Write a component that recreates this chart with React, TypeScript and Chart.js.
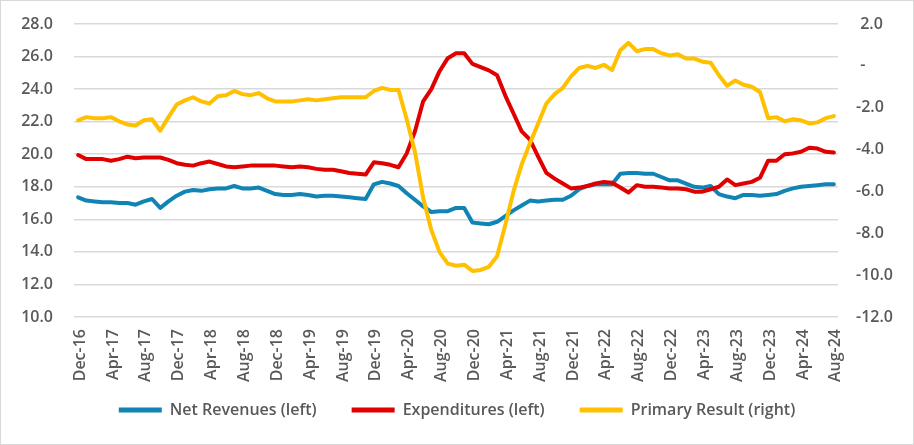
import { useEffect, useRef } from "react"
import { Chart, registerables } from "chart.js"

Chart.register(...registerables)

// monthly categories, Dec-16 .. Aug-24
const monthNames = ["Jan", "Feb", "Mar", "Apr", "May", "Jun", "Jul", "Aug", "Sep", "Oct", "Nov", "Dec"]
const categories: string[] = []
for (let i = 0; i < 93; i++) {
  const m = (11 + i) % 12
  const y = 16 + Math.floor((11 + i) / 12)
  categories.push(`${monthNames[m]}-${y}`)
}

const netRevenues = [
  17.35, 17.15, 17.1, 17.05, 17.05, 17.0, 17.0, 16.9, 17.1, 17.25, 16.7, 17.1,
  17.45, 17.7, 17.8, 17.75, 17.85, 17.9, 17.9, 18.05, 17.9, 17.9, 17.95, 17.75,
  17.55, 17.5, 17.5, 17.55, 17.5, 17.4, 17.45, 17.45, 17.4, 17.35, 17.3, 17.25,
  18.15, 18.3, 18.2, 18.05, 17.6, 17.2, 16.8, 16.45, 16.5, 16.5, 16.7, 16.7,
  15.8, 15.75, 15.7, 15.85, 16.2, 16.55, 16.85, 17.15, 17.1, 17.15, 17.2, 17.2,
  17.45, 17.85, 18.05, 18.15, 18.15, 18.15, 18.8, 18.85, 18.85, 18.8, 18.8, 18.6,
  18.4, 18.4, 18.2, 18.0, 17.95, 18.05, 17.55, 17.4, 17.3, 17.5, 17.5, 17.45,
  17.5, 17.55, 17.75, 17.9, 18.0, 18.05, 18.1, 18.15, 18.15,
]

const expenditures = [
  19.95, 19.7, 19.7, 19.7, 19.6, 19.7, 19.85, 19.75, 19.8, 19.8, 19.8, 19.65,
  19.45, 19.35, 19.3, 19.45, 19.55, 19.4, 19.25, 19.2, 19.25, 19.3, 19.3, 19.3,
  19.3, 19.25, 19.2, 19.25, 19.2, 19.1, 19.05, 19.05, 18.95, 18.85, 18.8, 18.75,
  19.5, 19.45, 19.35, 19.2, 20.05, 21.4, 23.25, 24.0, 25.1, 25.9, 26.2, 26.2,
  25.55, 25.35, 25.15, 24.85, 23.6, 22.5, 21.4, 20.9, 19.85, 18.85, 18.5, 18.2,
  17.9, 17.95, 18.05, 18.2, 18.3, 18.25, 17.95, 17.65, 18.1, 18.0, 18.0, 17.95,
  17.9, 17.9, 17.85, 17.7, 17.7, 17.85, 18.0, 18.45, 18.1, 18.2, 18.3, 18.55,
  19.6, 19.6, 20.0, 20.05, 20.15, 20.4, 20.35, 20.15, 20.1,
]

const primaryResult = [
  -2.6, -2.45, -2.5, -2.5, -2.45, -2.65, -2.8, -2.85, -2.6, -2.55, -3.1, -2.45,
  -1.85, -1.65, -1.5, -1.7, -1.8, -1.45, -1.4, -1.2, -1.35, -1.4, -1.3, -1.55,
  -1.7, -1.7, -1.7, -1.65, -1.6, -1.65, -1.6, -1.55, -1.5, -1.5, -1.5, -1.5,
  -1.2, -1.05, -1.15, -1.15, -2.55, -4.1, -6.3, -7.85, -8.9, -9.45, -9.55, -9.5,
  -9.8, -9.75, -9.6, -9.1, -7.6, -6.0, -4.7, -3.7, -2.75, -1.8, -1.35, -1.05,
  -0.5, -0.1, 0.0, -0.1, 0.05, -0.2, 0.75, 1.1, 0.7, 0.8, 0.8, 0.6,
  0.5, 0.55, 0.35, 0.35, 0.2, 0.15, -0.45, -0.95, -0.7, -0.9, -1.0, -1.25,
  -2.5, -2.45, -2.65, -2.55, -2.6, -2.75, -2.7, -2.5, -2.4,
]

const seriesNames = ["Net Revenues (left)", "Expenditures (left)", "Primary Result (right)"]
const seriesColors = ["#1084b4", "#e00000", "#ffc000"]

const textColor = "#595959"
const font = { family: "'Open Sans', sans-serif", size: 16, weight: 600 }
// y tick labels: zero line height so the tick padding does not push the plot area down
const yFont = { ...font, lineHeight: 0 }

export default function App() {
  const chartRef = useRef<HTMLCanvasElement>(null)
  const chartInstance = useRef<Chart | null>(null)

  useEffect(() => {
    if (!chartRef.current) return
    if (chartInstance.current) chartInstance.current.destroy()
    const ctx = chartRef.current.getContext("2d")
    if (!ctx) return

    const lineStyle = (i: number) => ({
      label: seriesNames[i],
      borderColor: seriesColors[i],
      backgroundColor: seriesColors[i],
      borderWidth: 4,
      pointRadius: 0,
      tension: 0,
      borderJoinStyle: "round" as const,
      borderCapStyle: "round" as const,
      order: 3 - i, // later series drawn on top, like Excel
    })

    chartInstance.current = new Chart(ctx, {
      type: "line",
      data: {
        labels: categories,
        datasets: [
          { ...lineStyle(0), data: netRevenues, yAxisID: "y" },
          { ...lineStyle(1), data: expenditures, yAxisID: "y" },
          { ...lineStyle(2), data: primaryResult, yAxisID: "y1" },
        ],
      },
      options: {
        animation: false,
        responsive: false,
        maintainAspectRatio: false,
        layout: { padding: { top: 23, right: 0, bottom: 16, left: 0 } },
        plugins: {
          tooltip: { enabled: false },
          legend: {
            position: "bottom",
            labels: {
              boxWidth: 43,
              boxHeight: 5,
              padding: 19,
              color: textColor,
              font,
              sort: (a, b) => (a.datasetIndex ?? 0) - (b.datasetIndex ?? 0),
              generateLabels: (chart) =>
                Chart.defaults.plugins.legend.labels.generateLabels(chart).map((item) => ({
                  ...item,
                  lineWidth: 0,
                  // em space widens the gap to the next entry
                  text: (item.datasetIndex ?? 0) < 2 ? item.text + "\u2003" : item.text,
                })),
            },
          },
        },
        scales: {
          x: {
            offset: true,
            grid: { display: false, drawTicks: false },
            border: { display: false },
            ticks: {
              autoSkip: false,
              minRotation: 90,
              maxRotation: 90,
              padding: 12,
              labelOffset: 2,
              color: textColor,
              font,
              callback: (_v, i) => (i % 4 === 0 ? categories[i] : ""),
            },
            afterFit: (s) => {
              s.height = 66
            },
          },
          y: {
            position: "left",
            min: 10,
            max: 28,
            ticks: {
              stepSize: 2,
              padding: 21,
              color: textColor,
              font: yFont,
              callback: (v) => Number(v).toFixed(1),
            },
            grid: { color: "#d9d9d9", lineWidth: 1.5, drawTicks: false },
            border: { display: false },
            afterFit: (s) => {
              s.width = 73
            },
          },
          y1: {
            position: "right",
            min: -12,
            max: 2,
            ticks: {
              stepSize: 2,
              padding: 18,
              color: textColor,
              font: yFont,
              callback: (v) => {
                const n = Number(v)
                if (n === 0) return " -"
                return n > 0 ? " " + n.toFixed(1) : n.toFixed(1)
              },
            },
            grid: { display: false, drawTicks: false },
            border: { display: false },
            afterFit: (s) => {
              s.width = 75
            },
          },
        },
      },
    })

    return () => {
      if (chartInstance.current) {
        chartInstance.current.destroy()
        chartInstance.current = null
      }
    }
  }, [])

  return (
    <div
      style={{
        position: "absolute",
        left: 0,
        top: 0,
        width: 914,
        height: 445,
        boxSizing: "border-box",
        border: "1px solid #d9d9d9",
        background: "#ffffff",
      }}
    >
      <canvas ref={chartRef} width={912} height={443} style={{ display: "block", width: 912, height: 443 }} />
    </div>
  )
}
